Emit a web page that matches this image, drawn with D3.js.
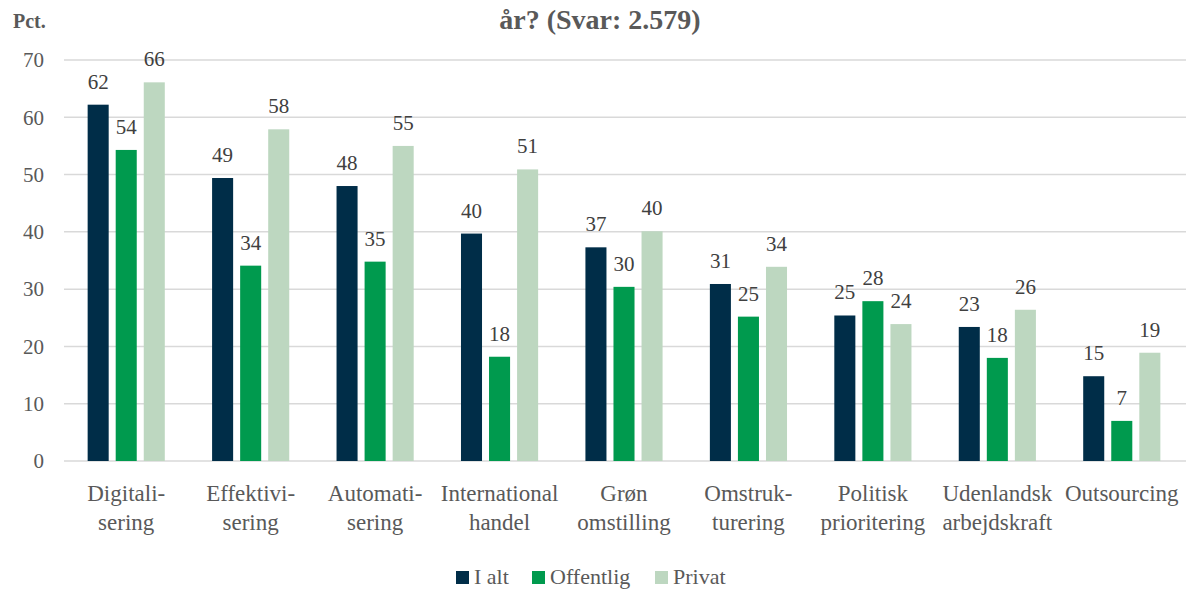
<!DOCTYPE html>
<html><head><meta charset="utf-8">
<script src="https://cdn.jsdelivr.net/npm/d3@7"></script>
<style>
body{margin:0;background:#fff;}
text{font-family:"Palatino Linotype","Book Antiqua",Palatino,"Liberation Serif",serif;}
</style></head>
<body><svg id="c" width="1186" height="589"></svg>
<script>
const categories = [["Digitali-","sering"],["Effektivi-","sering"],["Automati-","sering"],["International","handel"],["Grøn","omstilling"],["Omstruk-","turering"],["Politisk","prioritering"],["Udenlandsk","arbejdskraft"],["Outsourcing"]];
const seriesNames = ["I alt","Offentlig","Privat"];
const iAlt = [62.2,49.4,48.0,39.7,37.3,30.9,25.4,23.4,14.8];
const offentlig = [54.3,34.1,34.8,18.2,30.4,25.2,27.9,18.0,7.0];
const privat = [66.1,57.9,55.0,50.9,40.1,33.9,23.9,26.4,18.9];
const yTicks = [0,10,20,30,40,50,60,70];
const colors = ["#002D48","#009A4E","#BDD7C0"];

const FONT = '"Palatino Linotype","Book Antiqua",Palatino,"Liberation Serif",serif';
const series = [iAlt, offentlig, privat];
const svg = d3.select("#c");
const W=1186, H=589;
const m = {l:64, r:2, t:60, b:128};
const x0 = d3.scaleBand().domain(d3.range(categories.length)).range([m.l, W-m.r]).paddingInner(0).paddingOuter(0);
const x1 = d3.scaleBand().domain(d3.range(3)).range([x0.bandwidth()*0.19, x0.bandwidth()*0.81]).paddingInner(0.25);
const y = d3.scaleLinear().domain([0,70]).range([H-m.b, m.t]);

// gridlines
svg.append("g").selectAll("line").data(yTicks).join("line")
  .attr("x1", m.l).attr("x2", W).attr("y1", d=>y(d)).attr("y2", d=>y(d))
  .attr("stroke","#D9D9D9").attr("stroke-width",1.5);

// y axis labels
const ya = d3.axisLeft(y).tickValues(yTicks).tickSize(0).tickPadding(20);
const yg = svg.append("g").attr("transform",`translate(${m.l},0)`).call(ya);
yg.select(".domain").remove();
yg.selectAll("text").attr("font-size",21).attr("fill","#595959").attr("font-family",FONT);

// bars
const groups = svg.append("g").selectAll("g").data(categories).join("g")
  .attr("transform",(d,i)=>`translate(${x0(i)},0)`);
groups.each(function(c,i){
  const g = d3.select(this);
  series.forEach((s,k)=>{
    g.append("rect").attr("x",x1(k)).attr("width",x1.bandwidth())
      .attr("y",y(s[i])).attr("height",y(0)-y(s[i])).attr("fill",colors[k]);
    g.append("text").attr("x",x1(k)+x1.bandwidth()/2).attr("y",y(s[i])-16)
      .attr("text-anchor","middle").attr("font-size",21).attr("fill","#404040")
      .text(Math.round(s[i]));
  });
  const t = g.append("text").attr("text-anchor","middle").attr("font-size",23).attr("fill","#595959");
  c.forEach((line,li)=>{
    t.append("tspan").attr("x",x0.bandwidth()/2).attr("y",H-m.b+40+li*29).text(line);
  });
});

// title
svg.append("text").attr("x",600).attr("y",29).attr("text-anchor","middle")
  .attr("font-size",28).attr("font-weight","bold").attr("fill","#595959").text("år? (Svar: 2.579)");
svg.append("text").attr("x",13).attr("y",28).attr("font-size",20).attr("font-weight","bold")
  .attr("fill","#595959").text("Pct.");

// legend
const legX = [456, 532, 655];
const lg = svg.append("g");
seriesNames.forEach((n,k)=>{
  lg.append("rect").attr("x",legX[k]).attr("y",571).attr("width",13).attr("height",13).attr("fill",colors[k]);
  lg.append("text").attr("x",legX[k]+18).attr("y",584).attr("font-size",22).attr("fill","#595959").text(n);
});
</script></body></html>
